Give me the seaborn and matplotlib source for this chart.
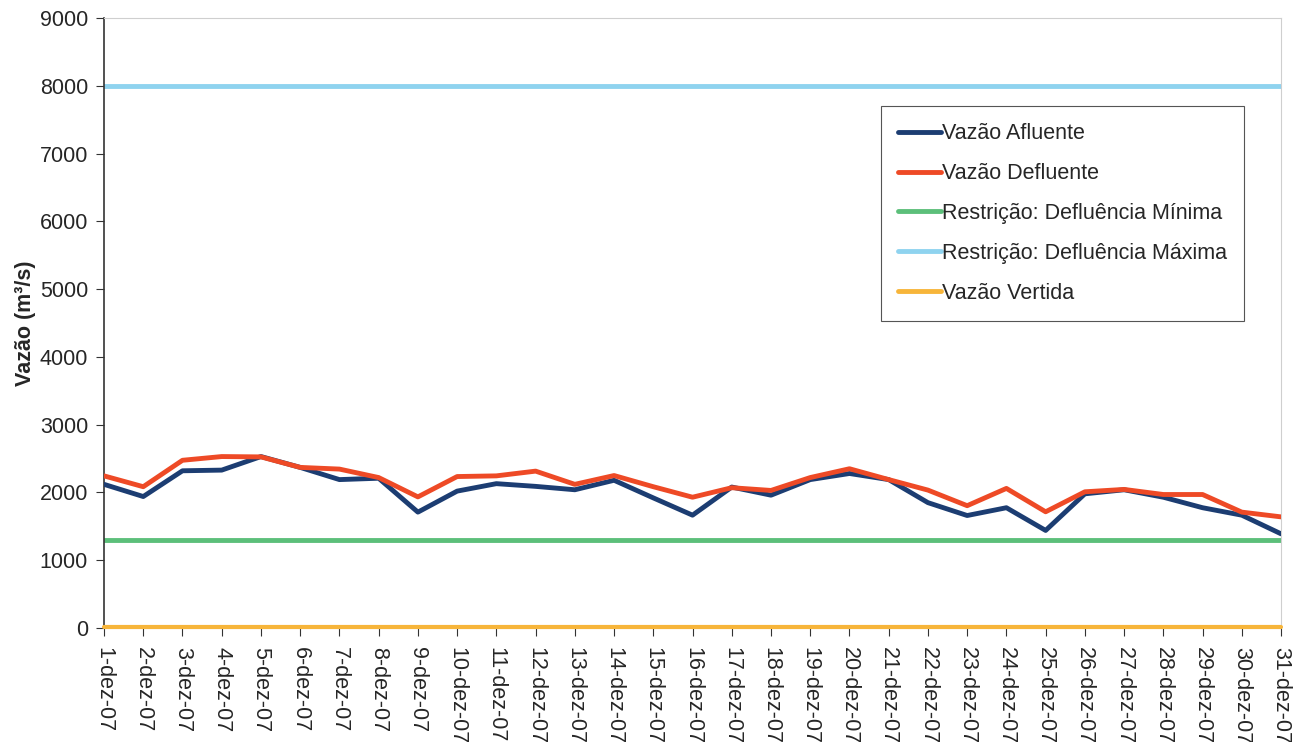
import matplotlib
matplotlib.use("Agg")
import matplotlib.pyplot as plt
import seaborn as sns
import pandas as pd
from matplotlib.lines import Line2D

# --- Data ---
dias = [f"{d}-dez-07" for d in range(1, 32)]
afluente = [2120, 1940, 2320, 2330, 2530, 2370, 2190, 2210, 1710, 2020,
            2130, 2090, 2040, 2180, 1920, 1665, 2080, 1960, 2190, 2280,
            2190, 1850, 1660, 1775, 1440, 1980, 2040, 1930, 1775, 1665, 1390]
defluente = [2245, 2085, 2475, 2530, 2525, 2370, 2345, 2220, 1935, 2235,
             2245, 2315, 2120, 2250, 2085, 1930, 2070, 2030, 2220, 2350,
             2190, 2035, 1805, 2060, 1715, 2010, 2045, 1970, 1970, 1710, 1640]
defl_minima = [1300] * 31
defl_maxima = [8000] * 31
vertida = [20] * 31

series = {
    "Vazão Afluente": afluente,
    "Vazão Defluente": defluente,
    "Restrição: Defluência Mínima": defl_minima,
    "Restrição: Defluência Máxima": defl_maxima,
    "Vazão Vertida": vertida,
}
cores = ["#1c3d72", "#ee4a26", "#5cbf7a", "#8fd3ef", "#f7b53a"]

df = pd.DataFrame(series)
df["dia"] = range(len(dias))
longo = df.melt(id_vars="dia", var_name="serie", value_name="vazao")

# --- Plot ---
sns.set_style("white")
plt.rcParams["font.family"] = ["Liberation Sans", "DejaVu Sans"]

fig = plt.figure(figsize=(13.02, 7.42), dpi=100)
ax = fig.add_axes([0.0799, 0.1536, 0.904, 0.8221])

sns.lineplot(data=longo, x="dia", y="vazao", hue="serie",
             hue_order=list(series.keys()), palette=cores,
             linewidth=3.5, ax=ax, legend=False)
# afluente / defluente drawn above the constant lines
ax.lines[0].set_zorder(5)
ax.lines[1].set_zorder(6)
ax.lines[4].set_linewidth(3)
ax.lines[4].set_zorder(4)
ax.lines[4].set_clip_on(False)

ax.set_xlim(0, len(dias) - 1)
ax.set_ylim(0, 9000)
ax.set_yticks(range(0, 9001, 1000))
ax.set_xticks(range(len(dias)))
ax.set_xticklabels(dias, rotation=-90, fontsize=15.5)
ax.tick_params(axis="y", labelsize=15.5, length=5.5, pad=6,
               direction="out", left=True, color="#333333")
ax.tick_params(axis="x", length=5.5, pad=8, direction="out",
               bottom=True, color="#333333")
ax.set_xlabel("")
ax.set_ylabel("Vazão (m³/s)", fontsize=15.5, fontweight="bold", labelpad=3)

for s in ["left", "bottom"]:
    ax.spines[s].set_color("#333333")
    ax.spines[s].set_linewidth(1.2)
for s in ["top", "right"]:
    ax.spines[s].set_color("#cfcfcf")
    ax.spines[s].set_linewidth(0.8)

# legend
handles = [Line2D([0], [0], color=c, linewidth=3.5) for c in cores]
leg = ax.legend(handles, list(series.keys()), loc="upper left",
                bbox_to_anchor=(0.660, 0.856), borderaxespad=0,
                fontsize=15.5, handlelength=2.0, handletextpad=0.05,
                labelspacing=0.88, borderpad=0.8, fancybox=False,
                framealpha=1, edgecolor="#555555")
leg.get_frame().set_linewidth(0.8)

plt.savefig("out.png", dpi=100)
